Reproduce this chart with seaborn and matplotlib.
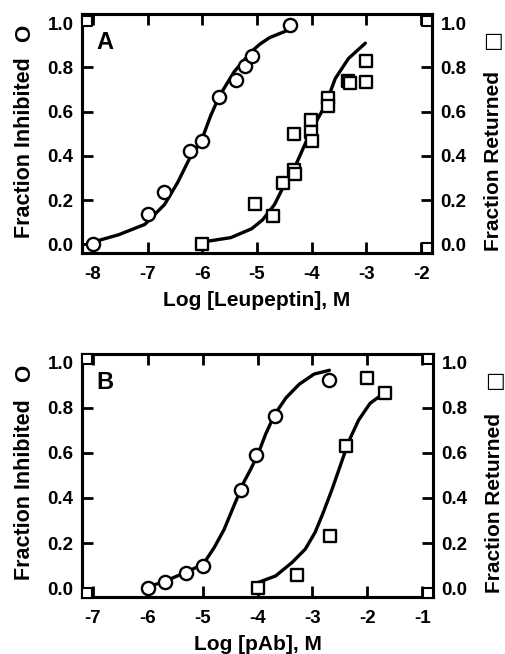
import matplotlib
matplotlib.use("Agg")
import matplotlib.pyplot as plt
import seaborn as sns
import pandas as pd

# ---------------- data: panel A (Leupeptin) ----------------
a_circle_x = [-8.0, -7.0, -6.70, -6.23, -6.0, -5.70, -5.39, -5.22, -5.09, -4.39]
a_circle_y = [0.0, 0.137, 0.236, 0.42, 0.467, 0.667, 0.745, 0.806, 0.85, 0.99]
a_square_x = [-6.0, -5.03, -4.71, -4.52, -4.33, -4.33, -4.31, -4.01, -4.01, -4.0,
              -3.71, -3.71, -3.33, -3.30, -3.0, -3.0]
a_square_y = [0.0, 0.18, 0.13, 0.276, 0.50, 0.336, 0.32, 0.564, 0.51, 0.467,
              0.66, 0.626, 0.74, 0.73, 0.734, 0.83]
a_fit1_x = [-8.0, -7.53, -7.05, -6.69, -6.45, -6.21, -6.03, -5.85, -5.69, -5.42,
            -5.11, -4.95, -4.77, -4.47, -4.39]
a_fit1_y = [0.01, 0.043, 0.09, 0.18, 0.28, 0.40, 0.46, 0.58, 0.67, 0.78,
            0.87, 0.905, 0.935, 0.965, 0.97]
a_fit2_x = [-6.0, -5.48, -5.10, -4.90, -4.68, -4.50, -4.29, -4.11, -3.93, -3.75,
            -3.57, -3.33, -3.02]
a_fit2_y = [0.01, 0.03, 0.07, 0.11, 0.18, 0.27, 0.36, 0.46, 0.55, 0.63,
            0.75, 0.84, 0.91]
a_corner_x = [-8.1, -1.9, -1.9]
a_corner_y = [1.01, 1.01, -0.015]

# ---------------- data: panel B (pAb) ----------------
b_circle_x = [-6.0, -5.69, -5.31, -4.99, -4.31, -4.02, -3.69, -2.69]
b_circle_y = [0.0, 0.029, 0.069, 0.098, 0.437, 0.59, 0.765, 0.924]
b_square_x = [-4.0, -3.29, -2.68, -2.38, -2.0, -1.68]
b_square_y = [0.0, 0.057, 0.233, 0.63, 0.934, 0.864]
b_fit1_x = [-6.0, -5.69, -5.31, -4.99, -4.79, -4.61, -4.43, -4.25, -4.12, -4.0,
            -3.85, -3.69, -3.48, -3.24, -2.97, -2.69]
b_fit1_y = [0.005, 0.03, 0.07, 0.106, 0.18, 0.26, 0.366, 0.47, 0.53, 0.59,
            0.685, 0.77, 0.845, 0.905, 0.95, 0.967]
b_fit2_x = [-4.0, -3.67, -3.37, -3.13, -2.95, -2.80, -2.64, -2.49, -2.34, -2.16,
            -1.95, -1.70]
b_fit2_y = [0.024, 0.054, 0.114, 0.173, 0.248, 0.337, 0.44, 0.545, 0.65, 0.745,
            0.82, 0.865]
b_corner_x = [-7.1, -7.1, -0.9, -0.9]
b_corner_y = [1.015, -0.02, 1.015, -0.02]

y_ticks = [0.0, 0.2, 0.4, 0.6, 0.8, 1.0]
y_ticklabels = ["0.0", "0.2", "0.4", "0.6", "0.8", "1.0"]
a_xticks = [-8, -7, -6, -5, -4, -3, -2]
b_xticks = [-7, -6, -5, -4, -3, -2, -1]

sns.set_theme(style="ticks")
plt.rcParams["font.family"] = ["Liberation Sans", "DejaVu Sans"]
plt.rcParams["font.weight"] = "bold"
plt.rcParams["axes.labelweight"] = "bold"
plt.rcParams["text.color"] = "black"
plt.rcParams["axes.labelcolor"] = "black"
plt.rcParams["xtick.color"] = "black"
plt.rcParams["ytick.color"] = "black"

fig = plt.figure(figsize=(5.06, 6.54), dpi=100)

panels = [
    dict(rect=[0.162, 0.613, 0.692, 0.365], xlim=(-8.2, -1.8), xticks=a_xticks,
         cx=a_circle_x, cy=a_circle_y, sx=a_square_x, sy=a_square_y,
         f1x=a_fit1_x, f1y=a_fit1_y, f2x=a_fit2_x, f2y=a_fit2_y,
         kx=a_corner_x, ky=a_corner_y, letter="A", xlabel="Log [Leupeptin], M"),
    dict(rect=[0.162, 0.087, 0.694, 0.372], xlim=(-7.2, -0.8), xticks=b_xticks,
         cx=b_circle_x, cy=b_circle_y, sx=b_square_x, sy=b_square_y,
         f1x=b_fit1_x, f1y=b_fit1_y, f2x=b_fit2_x, f2y=b_fit2_y,
         kx=b_corner_x, ky=b_corner_y, letter="B", xlabel="Log [pAb], M"),
]

for p in panels:
    ax = fig.add_axes(p["rect"])
    ax2 = ax.twinx()
    f1 = pd.DataFrame({"x": p["f1x"], "y": p["f1y"]})
    f2 = pd.DataFrame({"x": p["f2x"], "y": p["f2y"]})
    sns.lineplot(data=f1, x="x", y="y", ax=ax, color="black", lw=2.4,
                 sort=False, zorder=2)
    sns.lineplot(data=f2, x="x", y="y", ax=ax2, color="black", lw=2.4,
                 sort=False, zorder=2)
    c = pd.DataFrame({"x": p["cx"], "y": p["cy"]})
    s = pd.DataFrame({"x": p["sx"], "y": p["sy"]})
    k = pd.DataFrame({"x": p["kx"], "y": p["ky"]})
    sns.scatterplot(data=c, x="x", y="y", ax=ax, marker="o", s=90,
                    facecolor="white", edgecolor="black", linewidth=1.7, zorder=3)
    sns.scatterplot(data=s, x="x", y="y", ax=ax2, marker="s", s=85,
                    facecolor="white", edgecolor="black", linewidth=1.7, zorder=3)
    sns.scatterplot(data=k, x="x", y="y", ax=ax2, marker="s", s=42,
                    facecolor="white", edgecolor="black", linewidth=1.5,
                    zorder=3, clip_on=False)
    for a in (ax, ax2):
        a.set_xlim(*p["xlim"])
        a.set_ylim(-0.04, 1.04)
        a.set_yticks(y_ticks)
        a.set_yticklabels(y_ticklabels)
        for sp in a.spines.values():
            sp.set_linewidth(2.2)
            sp.set_color("black")
            sp.set_visible(True)
    ax.set_xticks(p["xticks"])
    ax.set_xticklabels([str(t) for t in p["xticks"]])
    ax.tick_params(axis="both", direction="in", length=8, width=2.0,
                   labelsize=13.5, top=True, pad=6, colors="black")
    ax.tick_params(axis="x", pad=9)
    ax.tick_params(axis="y", right=False)
    ax2.tick_params(axis="y", direction="in", length=8, width=2.0,
                    labelsize=13.5, pad=6, colors="black")
    for lab in ax.get_xticklabels() + ax.get_yticklabels() + ax2.get_yticklabels():
        lab.set_fontweight("bold")
    ax.set_xlabel(p["xlabel"], fontsize=15, fontweight="bold", labelpad=6,
                  color="black")
    ax.set_ylabel("Fraction Inhibited", fontsize=15.5, fontweight="bold",
                  color="black")
    ax.yaxis.set_label_coords(-0.135, 0.44)
    ax2.set_ylabel("Fraction Returned", fontsize=15, fontweight="bold",
                   rotation=90, color="black")
    ax2.yaxis.set_label_coords(1.148, 0.385)
    ax.text(-0.163, 0.92, "O", transform=ax.transAxes, fontsize=16,
            fontweight="bold", rotation=90, ha="center", va="center",
            color="black")
    ax.text(1.175, 0.89, "\u25A1", transform=ax.transAxes, fontsize=15,
            fontweight="bold", family="DejaVu Sans", ha="center", va="center",
            color="black")
    ax.text(0.04, 0.93, p["letter"], transform=ax.transAxes, fontsize=17,
            fontweight="bold", ha="left", va="top", color="black")

fig.savefig("out.png", dpi=100)
